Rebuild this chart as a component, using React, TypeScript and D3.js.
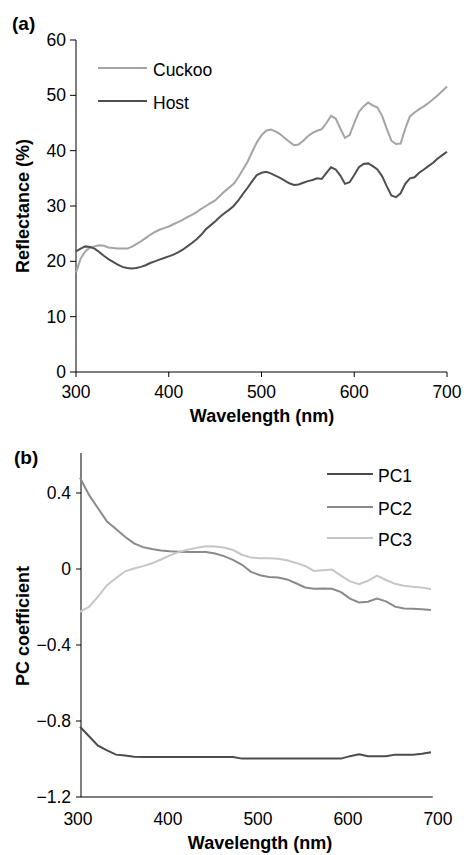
import React from 'react'
import * as d3 from 'd3'

// panel (a): reflectance spectra, 5 nm steps
const wavelengthsA = d3.range(300, 701, 5)
const cuckoo = [
  18.0, 20.5, 21.8, 22.5, 22.7, 22.9, 22.8, 22.5, 22.4, 22.3,
  22.3, 22.3, 22.6, 23.1, 23.6, 24.2, 24.8, 25.3, 25.7, 26.0,
  26.3, 26.7, 27.1, 27.5, 28.0, 28.4, 28.9, 29.5, 30.0, 30.5,
  31.0, 31.8, 32.6, 33.3, 34.0, 35.2, 36.6, 38.0, 39.8, 41.5,
  42.8, 43.6, 43.8, 43.5, 43.0, 42.3, 41.6, 41.0, 41.1, 41.8,
  42.6, 43.2, 43.6, 43.9, 45.0, 46.3, 45.8, 44.0, 42.3, 42.8,
  45.0, 47.0, 48.0, 48.7, 48.2, 47.8, 46.3, 44.0, 41.8, 41.2,
  41.3, 44.0, 46.2, 46.9, 47.5, 48.0, 48.6, 49.3, 50.0, 50.8,
  51.6,
]
const host = [
  21.8, 22.3, 22.7, 22.6, 22.3, 21.7, 21.0, 20.4, 19.9, 19.4,
  19.0, 18.8, 18.7, 18.8, 19.0, 19.3, 19.7, 20.0, 20.3, 20.6,
  20.9, 21.2, 21.6, 22.1, 22.7, 23.3, 24.0, 24.8, 25.8, 26.5,
  27.2, 28.0, 28.7, 29.3, 30.0, 31.0, 32.2, 33.3, 34.5, 35.6,
  36.0, 36.2, 35.9, 35.5, 35.1, 34.6, 34.1, 33.8, 33.9, 34.2,
  34.5, 34.7, 35.0, 34.9, 36.0, 37.0, 36.6, 35.5, 34.0, 34.3,
  35.6, 37.0, 37.6, 37.7, 37.2, 36.6, 35.4, 33.6, 31.9, 31.6,
  32.3, 34.0, 35.0, 35.2, 36.0, 36.6, 37.2, 37.8, 38.6, 39.2,
  39.8,
]

// panel (b): PC coefficients, 10 nm steps
const wavelengthsB = d3.range(300, 691, 10)
const pc1 = [
  -0.83, -0.88, -0.93, -0.955, -0.977, -0.982, -0.988, -0.99, -0.99, -0.99,
  -0.99, -0.99, -0.99, -0.99, -0.99, -0.99, -0.99, -0.99, -0.998, -0.998,
  -0.998, -0.998, -0.998, -0.998, -0.998, -0.998, -0.998, -0.998, -0.998, -0.998,
  -0.985, -0.975, -0.985, -0.986, -0.986, -0.977, -0.977, -0.977, -0.972, -0.965,
]
const pc2 = [
  0.48, 0.39, 0.32, 0.25, 0.21, 0.17, 0.135, 0.115, 0.105, 0.097,
  0.093, 0.091, 0.09, 0.09, 0.09, 0.082, 0.068, 0.048, 0.022, -0.015,
  -0.033, -0.042, -0.045, -0.055, -0.075, -0.097, -0.104, -0.103, -0.104, -0.122,
  -0.156, -0.176, -0.172, -0.155, -0.17, -0.198, -0.208, -0.209, -0.212, -0.216,
]
const pc3 = [
  -0.225, -0.2, -0.145, -0.085, -0.048, -0.012, 0.003, 0.015, 0.03, 0.05,
  0.072, 0.09, 0.102, 0.112, 0.12, 0.118, 0.113, 0.1, 0.075, 0.06,
  0.056, 0.056, 0.054, 0.046, 0.032, 0.016, -0.01, -0.007, -0.003, -0.035,
  -0.065, -0.08, -0.062, -0.035, -0.058, -0.078, -0.088, -0.094, -0.098, -0.105,
]

const xTicks = [300, 400, 500, 600, 700]
const yTicksA = [0, 10, 20, 30, 40, 50, 60]
const yTicksB = [0.4, 0, -0.4, -0.8, -1.2]

const font = '"Liberation Sans", Arial, Helvetica, sans-serif'

export default function App() {
  // panel a scales
  const xa = d3.scaleLinear().domain([300, 700]).range([76, 447])
  const ya = d3.scaleLinear().domain([0, 60]).range([372, 40])
  // panel b scales
  const xb = d3.scaleLinear().domain([300, 700]).range([80, 440])
  const yb = d3.scaleLinear().domain([-1.2, 0.6]).range([797, 455])

  const lineA = (vals: number[]) =>
    d3.line<number>().x((d, i) => xa(wavelengthsA[i])).y(d => ya(d))(vals) || ''
  const lineB = (vals: number[]) =>
    d3.line<number>().x((d, i) => xb(wavelengthsB[i])).y(d => yb(d))(vals) || ''

  const fmtB = (v: number) => (v < 0 ? '\u2212' + Math.abs(v).toFixed(1) : v === 0 ? '0' : v.toFixed(1))

  const seriesA = [
    { name: 'Cuckoo', vals: cuckoo, color: '#a4a4a4', ly: 68 },
    { name: 'Host', vals: host, color: '#4f4f4f', ly: 101 },
  ]
  const seriesB = [
    { name: 'PC1', vals: pc1, color: '#4c4c4c', ly: 474 },
    { name: 'PC2', vals: pc2, color: '#8a8a8a', ly: 507 },
    { name: 'PC3', vals: pc3, color: '#c6c6c6', ly: 538 },
  ]

  return (
    <svg width={467} height={855} style={{ position: 'absolute', left: 0, top: 0, background: '#fff' }}
      fontFamily={font}>
      {/* ---------- panel (a) ---------- */}
      <text x={12} y={30} fontSize={19} fontWeight="bold">(a)</text>
      <line x1={xa(300)} x2={xa(300)} y1={ya(60)} y2={ya(0)} stroke="#000" />
      <line x1={xa(300)} x2={xa(700)} y1={ya(0)} y2={ya(0)} stroke="#000" />
      {yTicksA.map(t => (
        <g key={'ya' + t}>
          <line x1={xa(300) - 6} x2={xa(300)} y1={ya(t)} y2={ya(t)} stroke="#000" />
          <text x={xa(300) - 10} y={ya(t) + 6} fontSize={17.5} textAnchor="end">{t}</text>
        </g>
      ))}
      {xTicks.map(t => (
        <g key={'xa' + t}>
          <line x1={xa(t)} x2={xa(t)} y1={ya(0)} y2={ya(0) + 5} stroke="#000" />
          <text x={xa(t)} y={398} fontSize={17.5} textAnchor="middle">{t}</text>
        </g>
      ))}
      <text x={262} y={422} fontSize={18} fontWeight="bold" textAnchor="middle">Wavelength (nm)</text>
      <text transform={`translate(29,${(ya(0) + ya(60)) / 2}) rotate(-90)`} fontSize={18}
        fontWeight="bold" textAnchor="middle">Reflectance (%)</text>
      {seriesA.map(s => (
        <g key={s.name}>
          <path d={lineA(s.vals)} fill="none" stroke={s.color} strokeWidth={2} />
          <line x1={98} x2={147} y1={s.ly} y2={s.ly} stroke={s.color} strokeWidth={2} />
          <text x={153} y={s.ly + 8} fontSize={17.5}>{s.name}</text>
        </g>
      ))}

      {/* ---------- panel (b) ---------- */}
      <text x={14} y={464} fontSize={19} fontWeight="bold">(b)</text>
      <line x1={xb(300) + 1} x2={xb(300) + 1} y1={yb(0.6) - 2} y2={yb(-1.2)} stroke="#000" />
      <line x1={xb(300) + 1} x2={xb(692)} y1={yb(-1.2)} y2={yb(-1.2)} stroke="#000" />
      {yTicksB.map(t => (
        <g key={'yb' + t}>
          <line x1={xb(300) - 4} x2={xb(300) + 1} y1={yb(t)} y2={yb(t)} stroke="#000" />
          <text x={xb(300) - 9} y={yb(t) + 6} fontSize={17.5} textAnchor="end">{fmtB(t)}</text>
        </g>
      ))}
      {xTicks.map(t => (
        <text key={'xb' + t} x={xb(t) - 2} y={825} fontSize={17.5} textAnchor="middle">{t}</text>
      ))}
      <text x={260} y={849} fontSize={18} fontWeight="bold" textAnchor="middle">Wavelength (nm)</text>
      <text transform={`translate(29,${(yb(-1.2) + yb(0.6)) / 2}) rotate(-90)`} fontSize={18}
        fontWeight="bold" textAnchor="middle">PC coefficient</text>
      {seriesB.map(s => (
        <g key={s.name}>
          <path d={lineB(s.vals)} fill="none" stroke={s.color} strokeWidth={2} />
          <line x1={327} x2={373} y1={s.ly} y2={s.ly} stroke={s.color} strokeWidth={2} />
          <text x={378} y={s.ly + 8} fontSize={17.5}>{s.name}</text>
        </g>
      ))}
    </svg>
  )
}
